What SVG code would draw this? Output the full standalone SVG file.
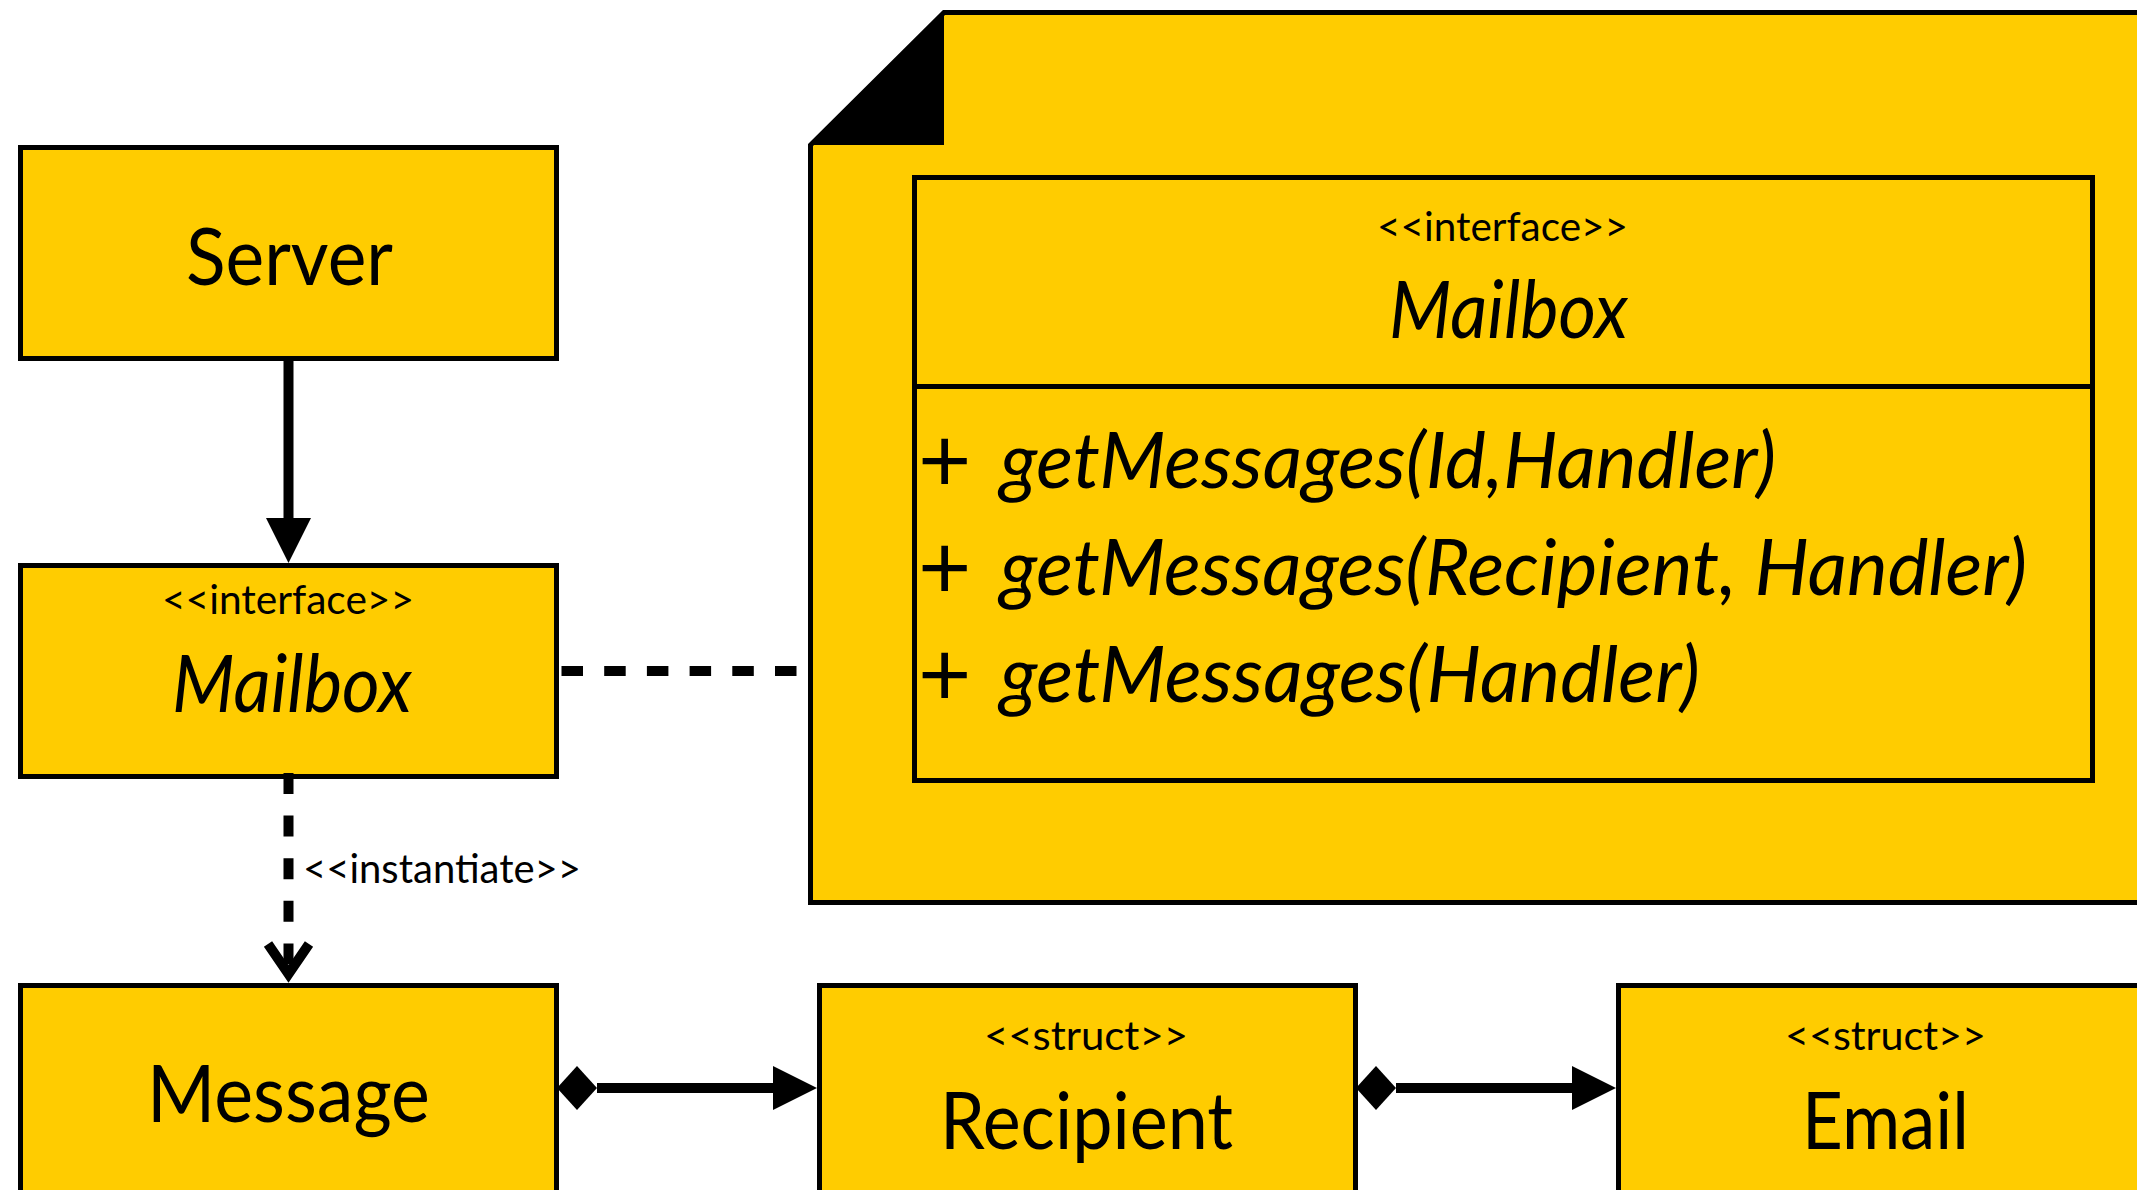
<svg xmlns="http://www.w3.org/2000/svg" width="2137" height="1190" viewBox="0 0 2137 1190">
  <style>
    .box { fill: #FFCC00; stroke: #000; stroke-width: 5; }
    .txt { font-family: Lato, "Liberation Sans", sans-serif; fill: #000; }
    .name { font-size: 80px; }
    .stereo { font-size: 40px; }
    .ital { font-style: italic; }
    .op { font-size: 78px; }
    .plus { font-size: 92px; }
    .line { stroke: #000; stroke-width: 10; fill: none; }
  </style>

  <!-- package with folded tab -->
  <g id="package-mailbox">
    <path class="box" d="M810.5,902.5 V145 L944,12.5 H2150 V902.5 Z"/>
    <path d="M810.5,145 L944,12.5 V145 Z" fill="#000"/>
    <g id="class-mailbox-detail">
      <rect class="box" x="914.5" y="177.5" width="1178" height="603"/>
      <line x1="914.5" y1="386.5" x2="2092.5" y2="386.5" stroke="#000" stroke-width="5"/>
      <text class="txt stereo" x="1377" y="241" textLength="251" lengthAdjust="spacingAndGlyphs">&lt;&lt;interface&gt;&gt;</text>
      <text class="txt name ital" x="1389" y="338" textLength="239" lengthAdjust="spacingAndGlyphs">Mailbox</text>
      <text class="txt plus" x="918" y="492">+</text>
      <text class="txt op ital" x="1000" y="488" textLength="776" lengthAdjust="spacingAndGlyphs">getMessages(Id,Handler)</text>
      <text class="txt plus" x="918" y="599">+</text>
      <text class="txt op ital" x="1000" y="595" textLength="1027" lengthAdjust="spacingAndGlyphs">getMessages(Recipient, Handler)</text>
      <text class="txt plus" x="918" y="706">+</text>
      <text class="txt op ital" x="1000" y="702" textLength="700" lengthAdjust="spacingAndGlyphs">getMessages(Handler)</text>
    </g>
  </g>

  <g id="server">
    <rect class="box" x="20.5" y="147.5" width="536" height="211"/>
    <text class="txt name" x="186" y="285" textLength="207" lengthAdjust="spacingAndGlyphs">Server</text>
  </g>

  <g id="mailbox">
    <rect class="box" x="20.5" y="565.5" width="536" height="211"/>
    <text class="txt stereo" x="162" y="614" textLength="252" lengthAdjust="spacingAndGlyphs">&lt;&lt;interface&gt;&gt;</text>
    <text class="txt name ital" x="172" y="712" textLength="240" lengthAdjust="spacingAndGlyphs">Mailbox</text>
  </g>

  <g id="message">
    <rect class="box" x="20.5" y="985.5" width="536" height="300"/>
    <text class="txt name" x="147" y="1122" textLength="283" lengthAdjust="spacingAndGlyphs">Message</text>
  </g>

  <g id="recipient">
    <rect class="box" x="819.5" y="985.5" width="536" height="300"/>
    <text class="txt stereo" x="984" y="1050" textLength="204" lengthAdjust="spacingAndGlyphs">&lt;&lt;struct&gt;&gt;</text>
    <text class="txt name" x="940" y="1149" textLength="293" lengthAdjust="spacingAndGlyphs">Recipient</text>
  </g>

  <g id="email">
    <rect class="box" x="1618.5" y="985.5" width="536" height="300"/>
    <text class="txt stereo" x="1785" y="1050" textLength="201" lengthAdjust="spacingAndGlyphs">&lt;&lt;struct&gt;&gt;</text>
    <text class="txt name" x="1802" y="1149" textLength="167" lengthAdjust="spacingAndGlyphs">Email</text>
  </g>

  <g id="connectors">
    <!-- Server uses Mailbox -->
    <line class="line" x1="288.5" y1="360" x2="288.5" y2="522"/>
    <path d="M266,518 H311 L288.5,563 Z" fill="#000"/>

    <!-- Mailbox realised by its detailed view -->
    <line class="line" x1="561.5" y1="671" x2="808" y2="671" stroke-dasharray="21.5 21.2"/>

    <!-- Mailbox instantiates Message -->
    <line class="line" x1="288.5" y1="773" x2="288.5" y2="980" stroke-dasharray="21 21.6"/>
    <polyline class="line" points="268,944 288.5,974 309,944" stroke-linejoin="miter"/>
    <text class="txt stereo" x="303" y="883" textLength="278" lengthAdjust="spacingAndGlyphs">&lt;&lt;instantiate&gt;&gt;</text>

    <!-- Message composes Recipient -->
    <line class="line" x1="597" y1="1088" x2="775" y2="1088"/>
    <path d="M557,1088 L577,1066 L597,1088 L577,1110 Z" fill="#000"/>
    <path d="M773,1066 L817,1088 L773,1110 Z" fill="#000"/>

    <!-- Recipient composes Email -->
    <line class="line" x1="1396" y1="1088" x2="1574" y2="1088"/>
    <path d="M1356,1088 L1376,1066 L1396,1088 L1376,1110 Z" fill="#000"/>
    <path d="M1572,1066 L1616,1088 L1572,1110 Z" fill="#000"/>
  </g>
</svg>
